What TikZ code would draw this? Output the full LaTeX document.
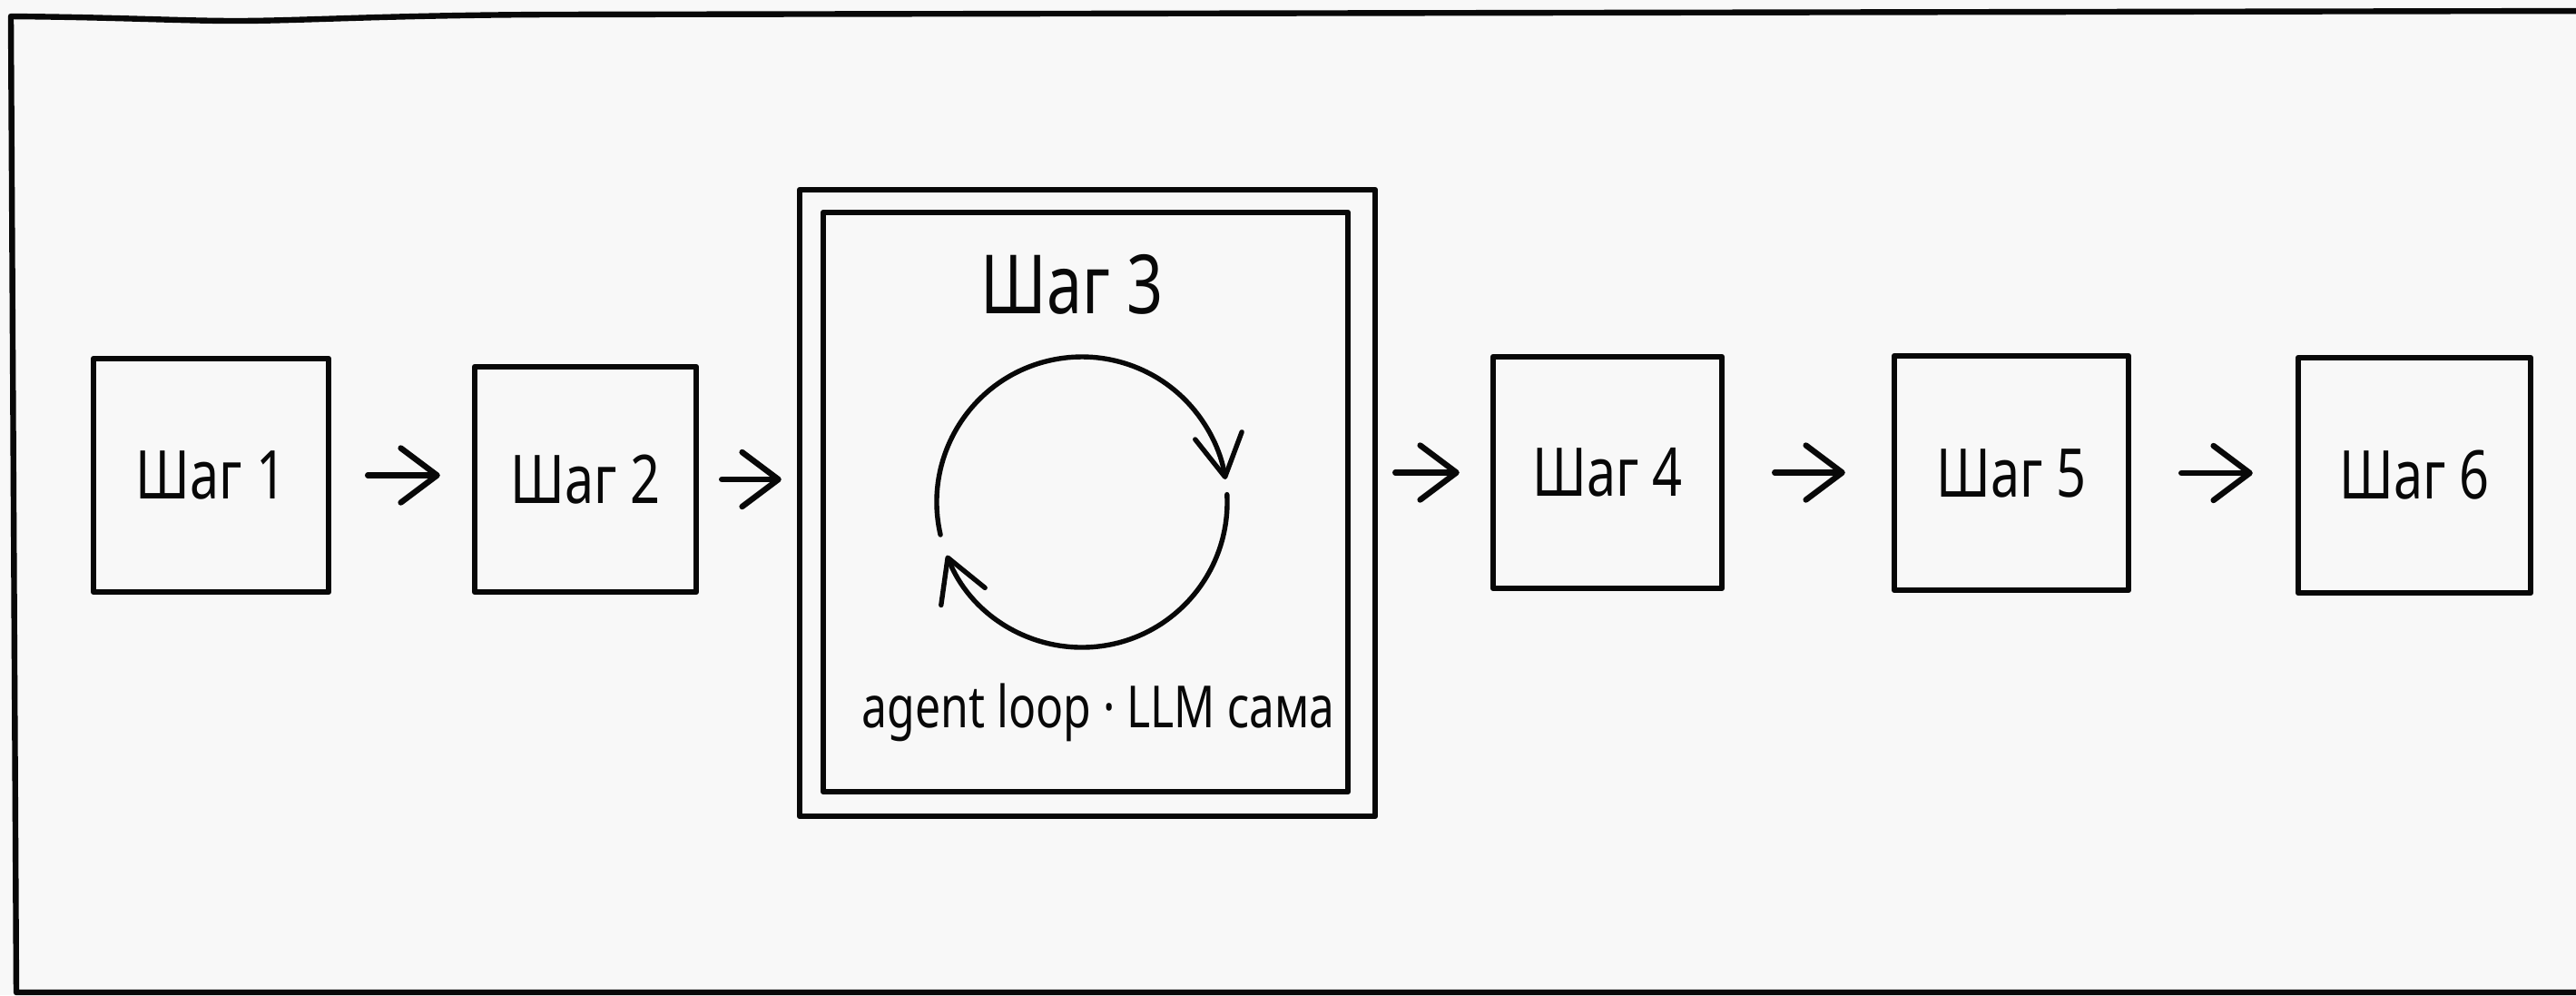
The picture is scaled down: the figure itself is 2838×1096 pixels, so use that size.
\documentclass[tikz,border=0pt]{standalone}
\usepackage{fontspec}
\setmainfont{Noto Sans}[FakeStretch=0.78]
\usetikzlibrary{arrows.meta}
\definecolor{bg}{RGB}{248,248,248}
\definecolor{ink}{RGB}{8,8,8}
\begin{document}
\begin{tikzpicture}[x=0.25pt,y=-0.25pt, line cap=round, line join=round,
  stepbox/.style={draw=ink, line width=1.6pt, inner sep=0pt, text=ink,
    font=\fontsize{18.5}{22}\selectfont},
  flow/.style={draw=ink, line width=1.6pt, -{Straight Barb[length=10pt,width=15pt,round]}},
  loopline/.style={draw=ink, line width=1.35pt, -{Straight Barb[length=11.5pt,width=13pt,round]}},
  titletext/.style={inner sep=0pt, text=ink, font=\fontsize{22.5}{26}\selectfont},
  captext/.style={inner sep=0pt, text=ink, font=\fontsize{16}{19}\selectfont}]
\useasboundingbox (0,0) rectangle (2838,1096);
\fill[bg] (0,0) rectangle (2838,1096);
% outer frame
\draw[ink, line width=1.6pt] (2860,12) -- (600,16) .. controls (420,17) and (330,23) .. (260,23)
  .. controls (200,23) and (130,19) .. (12,18) -- (18,1093) -- (2860,1093);
% boxes
\node[stepbox, minimum width=64.75pt, minimum height=64.25pt] (b1) at (232.5,523.5) {Шаг 1};
\node[stepbox, minimum width=61pt, minimum height=62pt] (b2) at (645,528) {Шаг 2};
\node[draw=ink, line width=1.6pt, inner sep=0pt, minimum width=158.5pt, minimum height=172.5pt] (b3) at (1198,554) {};
\node[draw=ink, line width=1.6pt, inner sep=0pt, minimum width=144.5pt, minimum height=159.5pt] (b3in) at (1196,553) {};
\node[stepbox, minimum width=63pt, minimum height=63.75pt] (b4) at (1771,520.5) {Шаг 4};
\node[stepbox, minimum width=64.5pt, minimum height=64.5pt] (b5) at (2216,521) {Шаг 5};
\node[stepbox, minimum width=64pt, minimum height=64.75pt] (b6) at (2660,523.5) {Шаг 6};
% step 3 contents
\node[titletext, anchor=base] (t3) at (1181,345) {Шаг 3};
\node[captext, anchor=base] (cap) at (1210,801) {agent loop · LLM сама};
\coordinate (lc) at (1192,553);
\draw[loopline] ([shift={(167:160)}]lc) arc[start angle=167, end angle=351, radius=160];
\draw[loopline] ([shift={(-3:160)}]lc) arc[start angle=-3, end angle=158.5, radius=160];
% connectors
\draw[flow, shorten <=10pt, shorten >=8.75pt] (b1.east) -- (b1.east -| b2.west);
\draw[flow, shorten <=6.25pt, shorten >=4.25pt] (b2.east) -- (b2.east -| b3.west);
\draw[flow, shorten <=4.75pt, shorten >=8.5pt] (b3.east |- b4.west) -- (b4.west);
\draw[flow, shorten <=13.75pt, shorten >=12.75pt] (b4.east) -- (b4.east -| b5.west);
\draw[flow, shorten <=13.75pt, shorten >=11.75pt] (b5.east) -- (b5.east -| b6.west);
\end{tikzpicture}
\end{document}
